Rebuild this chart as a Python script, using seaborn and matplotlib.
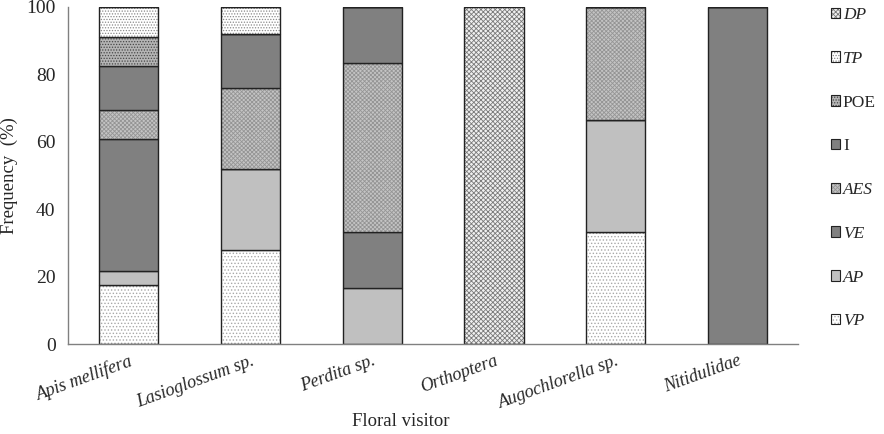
import pandas as pd
import seaborn as sns
import matplotlib.pyplot as plt
import numpy as np
from matplotlib.patches import Patch

visitors = ["Apis mellifera", "Lasioglossum sp.", "Perdita sp.",
            "Orthoptera", "Augochlorella sp.", "Nitidulidae"]

# frequency (%) per visitor, stacked bottom to top
VP = [17.4, 28.0, 0.0, 0.0, 33.3, 0.0]
AP = [4.3, 24.0, 16.7, 0.0, 33.3, 0.0]
VE = [39.1, 0.0, 16.7, 0.0, 0.0, 0.0]
AES = [8.7, 24.0, 50.0, 0.0, 33.4, 0.0]
I = [13.0, 16.0, 16.6, 0.0, 0.0, 100.0]
POE = [8.7, 0.0, 0.0, 0.0, 0.0, 0.0]
TP = [8.8, 8.0, 0.0, 0.0, 0.0, 0.0]
DP = [0.0, 0.0, 0.0, 100.0, 0.0, 0.0]

layers = ["VP", "AP", "VE", "AES", "I", "POE", "TP", "DP"]
values = [VP, AP, VE, AES, I, POE, TP, DP]
italic = {"VP", "AP", "VE", "AES", "TP", "DP"}

# face colour, hatch, hatch colour
styles = {
    "VP": ("white", ".....", "#a8a8a8"),
    "AP": ("#c0c0c0", "", "#c0c0c0"),
    "VE": ("#808080", "", "#808080"),
    "AES": ("#c4c4c4", "xxxxxxxx", "#959595"),
    "I": ("#808080", "", "#808080"),
    "POE": ("#b4b4b4", "......", "#484848"),
    "TP": ("white", "......", "#8a8a8a"),
    "DP": ("#f0f0f0", "xxxxxxx", "#7a7a7a"),
}

sns.set_style("white")
plt.rcParams["font.family"] = ["Liberation Serif", "DejaVu Serif"]
plt.rcParams["hatch.linewidth"] = 0.6

fig = plt.figure(figsize=(8.84, 4.34), dpi=100)
ax = fig.add_axes([0.077, 0.207, 0.826, 0.777])

bottom = np.zeros(len(visitors))
for name, vals in zip(layers, values):
    fc, h, hc = styles[name]
    df = pd.DataFrame({"visitor": visitors, "freq": vals})
    sns.barplot(data=df, x="visitor", y="freq", bottom=bottom, color=fc,
                hatch=h, edgecolor=hc, linewidth=0, width=0.485,
                saturation=1, ax=ax)
    sns.barplot(data=df, x="visitor", y="freq", bottom=bottom, fill=False,
                color="#222222", linewidth=1.0, width=0.485, ax=ax)
    bottom = bottom + np.array(vals)

ax.set_xlim(-0.5, 5.5)
ax.set_ylim(0, 100)
ax.set_yticks([0, 20, 40, 60, 80, 100])
ax.tick_params(axis="y", direction="out", length=5, color="#808080",
               labelsize=14, pad=4)
ax.tick_params(axis="x", length=0, labelsize=13, pad=6)
for lab in ax.get_xticklabels():
    lab.set_rotation(20)
    lab.set_ha("right")
    lab.set_va("top")
    lab.set_rotation_mode("anchor")
    lab.set_fontstyle("italic")
for side in ["top", "right"]:
    ax.spines[side].set_visible(False)
for side in ["left", "bottom"]:
    ax.spines[side].set_color("#808080")
    ax.spines[side].set_linewidth(1.0)
ax.set_xlabel("Floral visitor", fontsize=13.5)
ax.set_ylabel("Frequency  (%)", fontsize=13.5)
ax.xaxis.set_label_coords(0.455, -0.205)
ax.yaxis.set_label_coords(-0.068, 0.5)

handles = []
for name in layers[::-1]:
    fc, h, hc = styles[name]
    handles.append((Patch(facecolor=fc, hatch=h, edgecolor=hc, linewidth=0),
                    Patch(fill=False, edgecolor="#222222", linewidth=0.8)))
leg = fig.legend(handles, layers[::-1], loc="upper left",
                 bbox_to_anchor=(0.928, 1.008), frameon=False, fontsize=12.5,
                 handlelength=0.55, handleheight=0.55, handletextpad=0.15,
                 labelspacing=1.6, borderaxespad=0.2)
for txt in leg.get_texts():
    if txt.get_text() in italic:
        txt.set_fontstyle("italic")

plt.savefig("out.png", dpi=100)
